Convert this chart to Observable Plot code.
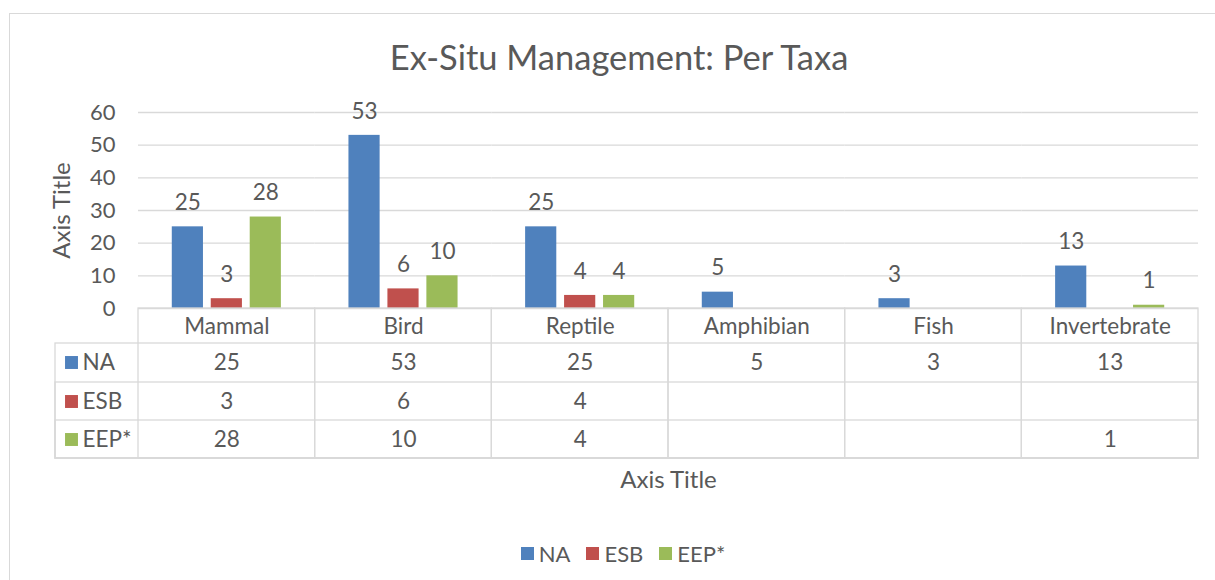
<!DOCTYPE html>
<html>
<head>
<meta charset="utf-8">
<script src="https://cdn.jsdelivr.net/npm/d3@7"></script>
<script src="https://cdn.jsdelivr.net/npm/@observablehq/plot@0.6"></script>
<style>
  html, body { margin: 0; padding: 0; background: #fff; }
  body { width: 1215px; height: 580px; overflow: hidden; position: relative; font-family: Lato, sans-serif; color: #595959; }
  #border { position: absolute; left: 9px; top: 13px; width: 1220px; height: 600px; border: 1.5px solid #d9d9d9; box-sizing: border-box; }
  #title { position: absolute; left: 0; width: 1238px; top: 37px; text-align: center; font-size: 34.5px; line-height: 40px; color: #595959; }
  #chart { position: absolute; left: 0; top: 90px; }
  #legend { position: absolute; left: 0; top: 537px; width: 1262px; display: flex; justify-content: center; }
  #legend span { margin-right: 16px !important; }
  #legend span > svg { margin-right: 5px !important; }
</style>
</head>
<body>
<div id="border"></div>
<div id="title">Ex-Situ Management: Per Taxa</div>
<div id="chart"></div>
<div id="legend"></div>
<script>
const categories = ["Mammal", "Bird", "Reptile", "Amphibian", "Fish", "Invertebrate"];
const series = ["NA", "ESB", "EEP*"];
const naValues = [25, 53, 25, 5, 3, 13];
const esbValues = [3, 6, 4, null, null, null];
const eepValues = [28, 10, 4, null, null, 1];
const colors = ["#4f81bd", "#c0504d", "#9bbb59"];
const yTicks = [0, 10, 20, 30, 40, 50, 60];

const seriesValues = [naValues, esbValues, eepValues];
const rows = [];
series.forEach((s, i) => categories.forEach((c, j) => rows.push({cat: c, series: s, value: seriesValues[i][j]})));
const present = rows.filter(d => d.value != null);

const textColor = "#595959";
const gridColor = "#d9d9d9";
const fs = 22.5;
const rowOffsets = [54, 93, 131];   // table row centers below the zero line
const rowLines = [35, 74, 112];     // table horizontal lines below the zero line
const frameH = 196;                 // plot frame height in px
const tableH = 150;                 // table height below zero line

const marks = [
  Plot.ruleY(yTicks, {stroke: gridColor, strokeWidth: 1.3}),
  Plot.barY(present, {fx: "cat", x: "series", y: "value", fill: "series"}),
  Plot.text(present, {fx: "cat", x: "series", y: "value", text: d => String(d.value), dy: -24, fontSize: fs, fill: textColor}),
  Plot.axisY({ticks: yTicks, tickSize: 0, tickPadding: 23, fontSize: fs - 0.5, label: null, fill: textColor, textAnchor: "end"}),
  // table cells per category: header border + vertical borders
  Plot.rect([0], {stroke: gridColor, strokeWidth: 1.3, fill: "none", insetTop: frameH, insetBottom: -tableH}),
  // left column and horizontal table lines
  ...rowLines.map(off => Plot.rect([0], {facet: "super", stroke: gridColor, strokeWidth: 1.3, fill: "none", insetTop: frameH + off, insetBottom: -tableH, insetLeft: -83})),
  // category header
  Plot.text(categories, {fx: d => d, frameAnchor: "bottom", lineAnchor: "middle", dy: 18, text: d => d, fontSize: fs, fill: textColor}),
  // table values
  ...series.map((s, i) => Plot.text(present.filter(d => d.series === s), {fx: "cat", frameAnchor: "bottom", lineAnchor: "middle", dy: rowOffsets[i], text: d => String(d.value), fontSize: fs, fill: textColor})),
  // left column swatches & labels
  ...series.map((s, i) => Plot.dot([s], {facet: "super", frameAnchor: "bottom-left", dx: -67, dy: rowOffsets[i], symbol: "square", r: 7.3, fill: colors[i]})),
  ...series.map((s, i) => Plot.text([s], {facet: "super", frameAnchor: "bottom-left", lineAnchor: "middle", dx: -56, dy: rowOffsets[i], text: d => d, textAnchor: "start", fontSize: fs, fill: textColor})),
  // axis titles
  Plot.text(["Axis Title"], {facet: "super", frameAnchor: "left", textAnchor: "middle", lineAnchor: "middle", dx: -76, rotate: -90, text: d => d, fontSize: 24, fill: textColor}),
  Plot.text(["Axis Title"], {facet: "super", frameAnchor: "bottom", textAnchor: "middle", lineAnchor: "middle", dy: 172, text: d => d, fontSize: 24, fill: textColor})
];

const chart = Plot.plot({
  width: 1215,
  height: 420,
  marginTop: 22,
  marginBottom: 202,
  marginLeft: 138,
  marginRight: 17,
  style: {fontFamily: "Lato, sans-serif", fontSize: "22px", color: textColor, background: "transparent", overflow: "visible"},
  fx: {domain: categories, padding: 0, axis: null, label: null, round: false},
  x: {domain: series, paddingInner: 0.2, paddingOuter: 0.867, axis: null, label: null, round: false},
  y: {domain: [0, 60], axis: null, label: null},
  color: {domain: series, range: colors},
  marks
});
document.getElementById("chart").appendChild(chart);

const legend = Plot.legend({
  color: {domain: series, range: colors},
  legend: "swatches",
  swatchSize: 13,
  style: {fontFamily: "Lato, sans-serif", fontSize: "22px", color: textColor, background: "transparent"}
});
document.getElementById("legend").appendChild(legend);
</script>
</body>
</html>
